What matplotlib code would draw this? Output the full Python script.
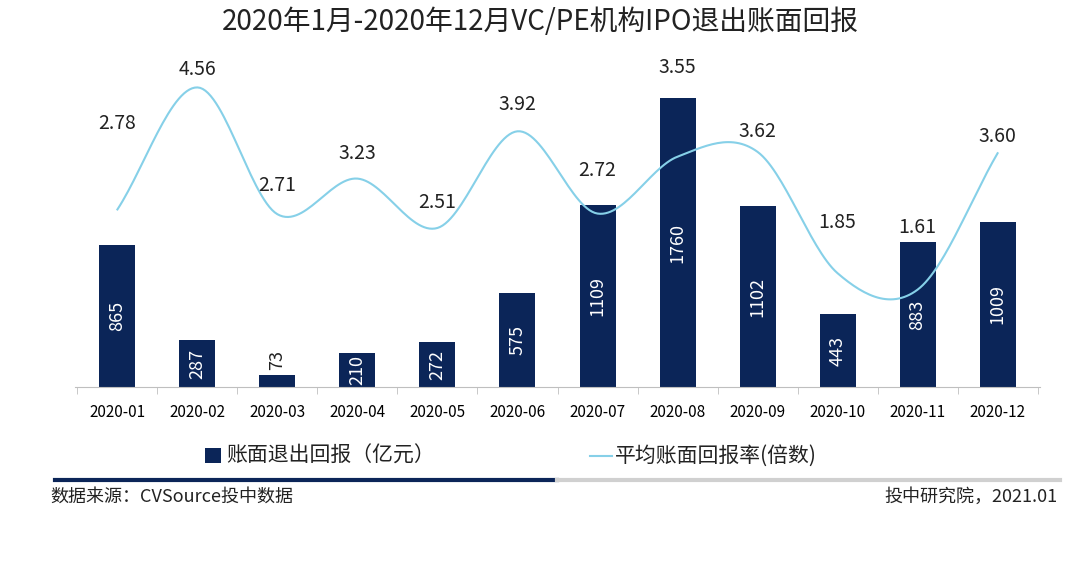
import numpy as np
import matplotlib
matplotlib.use("Agg")
import matplotlib.pyplot as plt
from matplotlib.patches import Rectangle
from matplotlib.lines import Line2D

plt.rcParams['font.family'] = ['Noto Sans CJK SC', 'DejaVu Sans']

months = ["2020-01","2020-02","2020-03","2020-04","2020-05","2020-06",
          "2020-07","2020-08","2020-09","2020-10","2020-11","2020-12"]
amount = [865, 287, 73, 210, 272, 575, 1109, 1760, 1102, 443, 883, 1009]
ratio = [2.78, 4.56, 2.71, 3.23, 2.51, 3.92, 2.72, 3.55, 3.62, 1.85, 1.61, 3.60]
label_offsets_px = [86, 18, 29, 25, 25, 27, 43, 89, 20, 51, 62, 17]

navy = "#0b2558"
light = "#86d0e8"

W, H = 1080, 577
fig = plt.figure(figsize=(W/100, H/100), dpi=100)
ax = fig.add_axes([75/W, 1-387/H, (1040-75)/W, (387-60)/H])
x = np.arange(len(months))
bars = ax.bar(x, amount, width=0.45, color=navy, zorder=2)
ax.set_xlim(-0.53, len(months)-0.47)
ax.set_ylim(0, 1994)
ax.set_yticks([])
for s in ["top", "right", "left"]:
    ax.spines[s].set_visible(False)
ax.spines["bottom"].set_color("#bfbfbf")
ax.set_xticks(x)
ax.set_xticklabels(months, fontsize=11)
ax.set_xticks(np.arange(len(months)+1)-0.5, minor=True)
ax.tick_params(axis="x", which="major", length=0, pad=12)
ax.tick_params(axis="x", which="minor", length=5, color="#bfbfbf")

for xi, v in zip(x, amount):
    if v < 150:
        ax.text(xi, v + 30, str(v), ha="center", va="bottom", rotation=90, fontsize=13, color="#222222")
    else:
        ax.text(xi, v/2, str(v), ha="center", va="center", rotation=90,
                fontsize=13, color="white")

ax2 = ax.twinx()
ax2.set_ylim(0.19, 4.96)
ax2.axis("off")

# Catmull-Rom smoothing through the data points
def catmull(xs, ys, n=30):
    px = np.concatenate([[2*xs[0]-xs[1]], xs, [2*xs[-1]-xs[-2]]])
    py = np.concatenate([[2*ys[0]-ys[1]], ys, [2*ys[-1]-ys[-2]]])
    ox, oy = [], []
    for i in range(1, len(px)-2):
        t = np.linspace(0, 1, n, endpoint=False)
        for arr, out in ((px, ox), (py, oy)):
            p0, p1, p2, p3 = arr[i-1], arr[i], arr[i+1], arr[i+2]
            out.extend(0.5*((2*p1) + (-p0+p2)*t + (2*p0-5*p1+4*p2-p3)*t**2 + (-p0+3*p1-3*p2+p3)*t**3))
    ox.append(xs[-1]); oy.append(ys[-1])
    return np.array(ox), np.array(oy)

sx, sy = catmull(x.astype(float), np.array(ratio))
ax2.plot(sx, sy, color=light, lw=1.5, zorder=3)
for xi, v, off in zip(x, ratio, label_offsets_px):
    ax2.annotate(f"{v:.2f}", (xi, v), xytext=(0, off*0.72), textcoords="offset points",
                 ha="center", va="center", fontsize=14, color="#222222")

fig.text(0.5, 1-22/H, "2020年1月-2020年12月VC/PE机构IPO退出账面回报", ha="center", va="center",
         fontsize=20, color="#222222")

# legend
fig.patches.append(Rectangle((205/W, 1-463/H), 16/W, 15/H, transform=fig.transFigure,
                             facecolor=navy, edgecolor="none"))
fig.text(226/W, 1-456/H, "账面退出回报（亿元）", va="center", fontsize=15, color="#222222")
fig.lines.append(Line2D([590/W, 612/W], [1-456/H, 1-456/H], transform=fig.transFigure,
                        color=light, lw=1.5))
fig.text(615/W, 1-456/H, "平均账面回报率(倍数)", va="center", fontsize=15, color="#222222")

# separator
fig.lines.append(Line2D([55/W, 557/W], [1-480/H]*2, transform=fig.transFigure, color=navy, lw=3))
fig.lines.append(Line2D([557/W, 1060/W], [1-480/H]*2, transform=fig.transFigure, color="#d0d0d0", lw=3))

fig.text(50/W, 1-497/H, "数据来源：CVSource投中数据", va="center", fontsize=13, color="#222222")
fig.text(1058/W, 1-497/H, "投中研究院，2021.01", va="center", ha="right", fontsize=13, color="#222222")

fig.savefig("out.png", dpi=100, facecolor="white")
